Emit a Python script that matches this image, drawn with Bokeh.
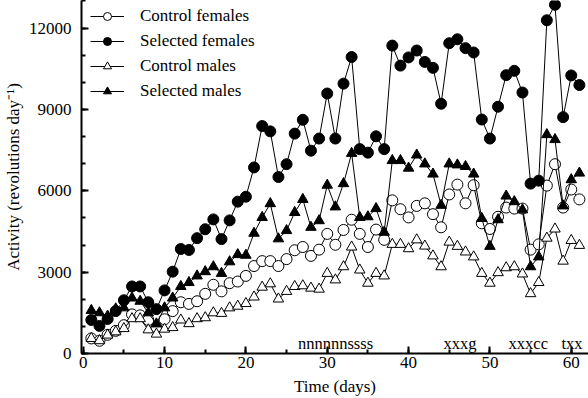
from bokeh.plotting import figure
from bokeh.models import (ColumnDataSource, Legend, LegendItem, SingleIntervalTicker,
                          Range1d)
from bokeh.core.properties import value
from bokeh.embed import file_html
from bokeh.resources import INLINE

days = list(range(1, 62))

control_females = [556, 470, 690, 836, 1044, 1443, 1407, 1236, 956, 1262,
                   1563, 1891, 1829, 1927, 2200, 2534, 2291, 2593, 2654, 2862,
                   3225, 3407, 3407, 3225, 3480, 3807, 3927, 3600, 3829, 4411,
                   4010, 4556, 4934, 4411, 3927, 4570, 4192, 5647, 5320, 5018,
                   5443, 5538, 5138, 4654, 5865, 6229, 5538, 6207, 4800, 4592,
                   5043, 5381, 5345, 5345, 3829, 4025, 6192, 6981, 5381, 6047,
                   5683]

selected_females = [1236, 1018, 1273, 1564, 1964, 2473, 2473, 1891, 1636, 2327,
                    3018, 3854, 3818, 4254, 4582, 4945, 4218, 4909, 5600, 5782,
                    6861, 8389, 8192, 6509, 6981, 8109, 8618, 7479, 7927, 9588,
                    7927, 9952, 10934, 7538, 7407, 8010, 7538, 11355, 10617, 10919,
                    11174, 10752, 10534, 9210, 11443, 11588, 11261, 11101, 8628, 7927,
                    9101, 10265, 10425, 9625, 6265, 6374, 12290, 12861, 8716, 10254,
                    9901]

control_males = [556, 473, 680, 800, 920, 1284, 1284, 873, 716, 898,
                 956, 1236, 1102, 1284, 1320, 1502, 1480, 1684, 1745, 1843,
                 2084, 2447, 2571, 2011, 2291, 2473, 2498, 2411, 2374, 2956,
                 2716, 3200, 3927, 3080, 2593, 2956, 2862, 4025, 4025, 3865,
                 4192, 3963, 3600, 3200, 4109, 3952, 3745, 3563, 2956, 2593,
                 2982, 3163, 3200, 2934, 2207, 2618, 4254, 4592, 3407, 4170,
                 3988]

selected_males = [1589, 1502, 1380, 1647, 1684, 2047, 1927, 1502, 1091, 1684,
                  2047, 2473, 2618, 2862, 3018, 3200, 2956, 3382, 3647, 3625,
                  4436, 5018, 5527, 4229, 4534, 5200, 5683, 4654, 4898, 6207,
                  5407, 6265, 7381, 5018, 5043, 5345, 4472, 7116, 7116, 6836,
                  7320, 6992, 6618, 5465, 6992, 6956, 6898, 6618, 4981, 3952,
                  4934, 5807, 5600, 5298, 3200, 3563, 8072, 7890, 5443, 6410,
                  6654]

series_names = ["Control females", "Selected females", "Control males", "Selected males"]

annotation_labels = ["nnnnnnssss", "xxxg", "xxxcc", "txx"]
annotation_days = [26.4, 44.3, 52.3, 58.8]
annotation_level = [360, 360, 360, 360]

FONT = "Liberation Serif"

p = figure(width=588, height=398, output_backend="svg", toolbar_location=None,
           x_range=Range1d(-0.21, 62.12), y_range=Range1d(0, 13018),
           min_border_left=80, min_border_right=0, min_border_top=0,
           min_border_bottom=40)
p.outline_line_color = None
p.grid.visible = False
p.background_fill_color = "white"
p.border_fill_color = "white"

src = ColumnDataSource(dict(day=days, cf=control_females, sf=selected_females,
                            cm=control_males, sm=selected_males))

items = []
specs = [("cf", "circle", "white"), ("sf", "circle", "black"),
         ("cm", "triangle", "white"), ("sm", "triangle", "black")]
for (col, marker, fill), name in zip(specs, series_names):
    ln = p.line("day", col, source=src, line_color="black", line_width=1)
    sc = p.scatter("day", col, source=src, marker=marker,
                   size=11 if marker == "circle" else 10.5,
                   fill_color=fill, line_color="black", line_width=1)
    items.append(LegendItem(label=name, renderers=[ln, sc]))

legend = Legend(items=items, location=(9, 252), border_line_color=None,
                background_fill_alpha=0, padding=0, margin=0, spacing=5,
                glyph_width=34, glyph_height=20, label_height=20,
                label_standoff=16,
                label_text_font=FONT, label_text_font_size="17px",
                label_text_color="black")
p.add_layout(legend)

p.text(x=annotation_days, y=annotation_level, text=annotation_labels,
       text_font=value(FONT), text_font_size="16.5px", text_color="black",
       text_baseline="alphabetic", text_align="left")

xa = p.xaxis[0]
xa.ticker = SingleIntervalTicker(interval=10, num_minor_ticks=2)
ya = p.yaxis[0]
ya.ticker = SingleIntervalTicker(interval=3000, num_minor_ticks=3)

for ax in (xa, ya):
    ax.axis_line_width = 2
    ax.axis_line_color = "black"
    ax.major_tick_line_width = 2
    ax.minor_tick_line_width = 2
    ax.major_tick_in = 7
    ax.major_tick_out = 0
    ax.minor_tick_in = 4
    ax.minor_tick_out = 0
    ax.major_label_text_font = FONT
    ax.major_label_text_font_size = "17px"
    ax.major_label_text_color = "black"
    ax.axis_label_text_font = FONT
    ax.axis_label_text_font_size = "17px"
    ax.axis_label_text_font_style = "normal"
    ax.axis_label_text_color = "black"

xa.axis_label = "Time (days)"
xa.major_label_standoff = 3
xa.axis_label_standoff = 6
ya.axis_label = "Activity (revolutions day\u207b\u00b9)"
ya.major_label_standoff = 10
ya.axis_label_standoff = 3
ya.formatter.use_scientific = False

open("out.html", "w").write(file_html(p, INLINE))
